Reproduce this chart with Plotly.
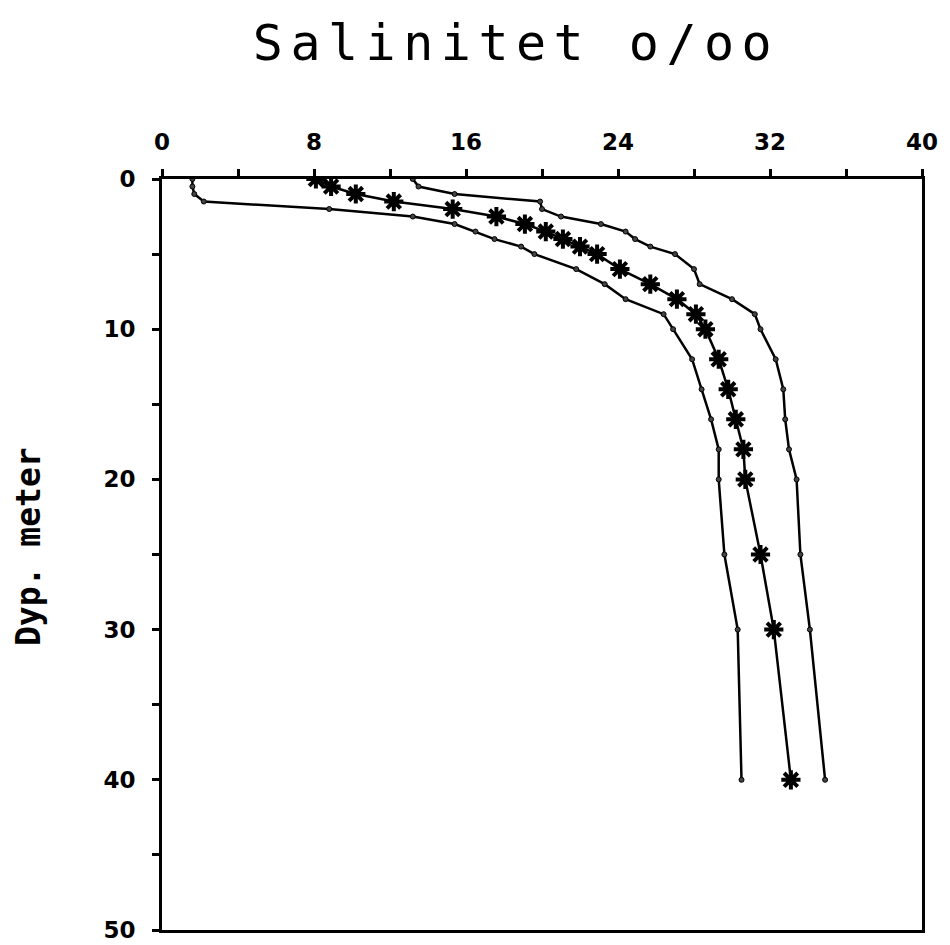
import plotly.graph_objects as go

# Depths (m) shared by all three profiles
depth = [0, 0.5, 1, 1.5, 2, 2.5, 3, 3.5, 4, 4.5, 5, 6, 7, 8, 9, 10, 12, 14, 16, 18, 20, 25, 30, 40]

# Salinity profiles (o/oo)
sal_min = [1.6, 1.6, 1.7, 2.2, 8.8, 13.2, 15.4, 16.5, 17.5, 18.9, 19.6, 21.8, 23.3, 24.4,
           26.4, 26.9, 27.9, 28.4, 28.9, 29.3, 29.3, 29.6, 30.3, 30.5]
sal_mean = [8.1, 8.9, 10.2, 12.2, 15.3, 17.6, 19.1, 20.2, 21.1, 22.0, 22.9, 24.1, 25.7, 27.1,
            28.1, 28.6, 29.3, 29.8, 30.2, 30.6, 30.7, 31.5, 32.2, 33.1]
sal_max = [13.2, 13.5, 15.4, 19.9, 20.0, 21.0, 23.1, 24.4, 24.9, 25.7, 27.0, 28.0, 28.3, 30.0,
           31.2, 31.5, 32.3, 32.7, 32.8, 33.0, 33.4, 33.6, 34.1, 34.9]

x_ticks = [0, 8, 16, 24, 32, 40]
y_ticks = [0, 10, 20, 30, 40, 50]

# page has an 8px body margin; figure sized to fit the 950x945 window
W, H = 942, 937
OFF = 8
L, R, T, B = 162 - OFF, 28, 179 - OFF, 15
PW = W - L - R
PH = H - T - B

fig = go.Figure()

for xs in (sal_min, sal_max):
    fig.add_trace(go.Scatter(
        x=xs, y=depth, mode="lines+markers",
        line=dict(color="black", width=2.5),
        marker=dict(symbol="circle", size=5, color="#444", line=dict(color="black", width=1)),
        showlegend=False,
    ))

fig.add_trace(go.Scatter(
    x=sal_mean, y=depth, mode="lines+markers",
    line=dict(color="black", width=2.5),
    marker=dict(symbol="circle", size=9, color="black"),
    showlegend=False,
))
fig.add_trace(go.Scatter(
    x=sal_mean, y=depth, mode="markers",
    marker=dict(symbol="asterisk-open", size=16, color="black", line=dict(color="black", width=4)),
    showlegend=False,
))

tickfont = dict(family="DejaVu Sans", size=23, color="black", weight="bold")

fig.update_layout(
    width=W, height=H,
    margin=dict(l=L, r=R, t=T, b=B, autoexpand=False),
    paper_bgcolor="white", plot_bgcolor="white",
    title=dict(text='<span style="letter-spacing:7.5px">Salinitet o/oo</span>',
               x=(516 - OFF - L) / PW, xref="paper", xanchor="center",
               y=1 - (42 - OFF) / H, yref="container", yanchor="middle",
               font=dict(family="DejaVu Sans Mono", size=50, color="black")),
    xaxis=dict(
        side="top", range=[0, 40], tickvals=x_ticks, ticktext=[str(v) for v in x_ticks],
        ticks="outside", ticklen=7, tickwidth=3, tickcolor="black",
        minor=dict(dtick=4, tick0=0, ticks="outside", ticklen=7, tickwidth=3, tickcolor="black"),
        showline=True, linecolor="black", linewidth=3, mirror=True,
        showgrid=False, zeroline=False, tickfont=tickfont, ticklabelstandoff=10,
    ),
    yaxis=dict(
        range=[50, 0], tickvals=y_ticks, ticktext=[str(v) for v in y_ticks],
        ticks="outside", ticklen=7, tickwidth=3, tickcolor="black",
        minor=dict(dtick=5, tick0=0, ticks="outside", ticklen=7, tickwidth=3, tickcolor="black"),
        showline=True, linecolor="black", linewidth=3, mirror=True,
        showgrid=False, zeroline=False, tickfont=tickfont, ticklabelstandoff=12,
    ),
    annotations=[dict(
        text="<b>Dyp. meter</b>", x=(28 - OFF - L) / PW, y=(930 - OFF - 547 + OFF - (H - B - PH - T)) / PH if False else (930 - 547) / PH,
        xref="paper", yref="paper", xanchor="center", yanchor="middle",
        textangle=-90, showarrow=False,
        font=dict(family="DejaVu Sans Mono", size=33, color="black"),
    )],
)

fig.write_html("out.html")
